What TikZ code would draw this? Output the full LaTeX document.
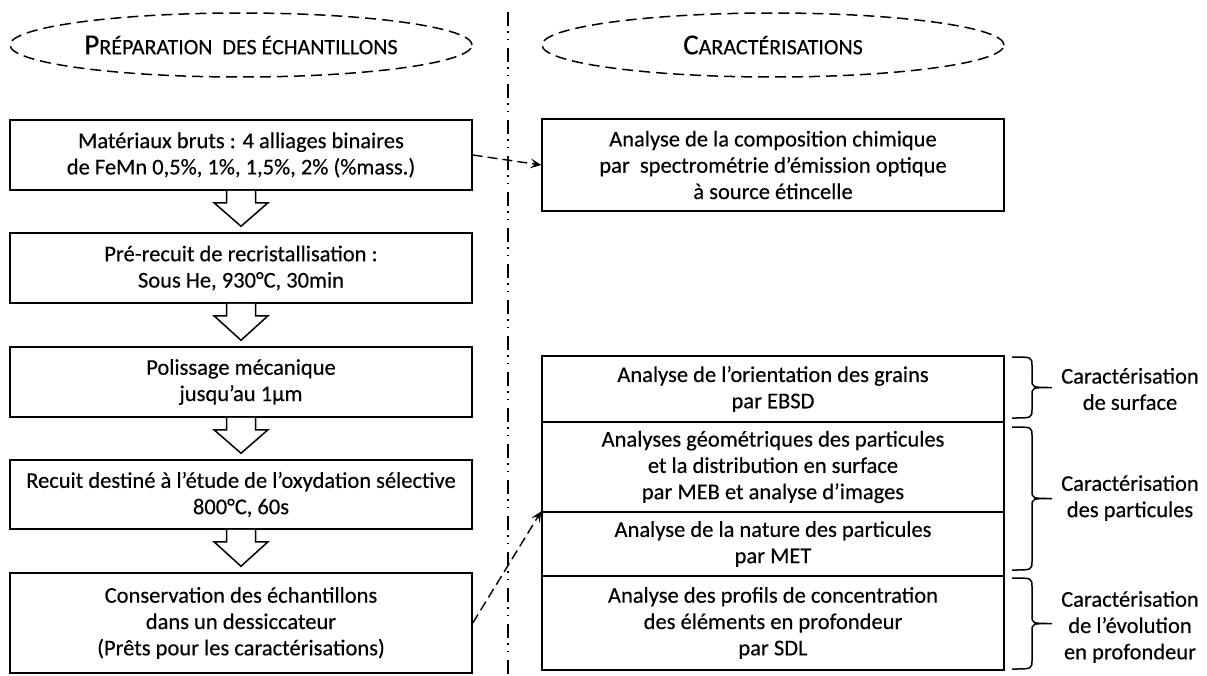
\documentclass[tikz,border=0pt]{standalone}
\usepackage{fontspec}
\setmainfont[FakeBold=0.3]{Carlito}
\newfontfamily\titlefont{Carlito}
\usetikzlibrary{shapes.geometric,arrows.meta,calc}
\newcommand\blockarr[2]{%
  \draw[blk] ([xshift=-14.5pt]#1.south) -- ++(0,12) -- ++(-12.5,0)
    -- ($(#2.north)+(0,-6)$) -- ($([xshift=27pt]#1.south)+(0,12)$)
    -- ++(-12.5,0) -- ([xshift=14.5pt]#1.south);}
\newcommand\mybracedraw[3]{%
  \pgfmathsetmacro\bm{(#2+#3)/2}%
  \pgfmathsetmacro\bx{#1+20}%
  \pgfmathsetmacro\bt{#1+40}%
  \draw[brc] (#1,#2) .. controls (\bx,#2) and (\bx,#2) .. (\bx,#2+9)
    -- (\bx,\bm-8) .. controls (\bx,\bm) and (\bx,\bm) .. (\bt,\bm)
    .. controls (\bx,\bm) and (\bx,\bm) .. (\bx,\bm+8)
    -- (\bx,#3-9) .. controls (\bx,#3) and (\bx,#3) .. (#1,#3);}
\begin{document}
\begin{tikzpicture}[x=1pt,y=-1pt,
  txt/.style={font=\fontsize{22.5}{26.3}\selectfont},
  box/.style={txt,draw,line width=1.5pt,minimum width=462pt,inner sep=0pt,align=center},
  ttl/.style={ellipse,draw,line width=1.5pt,dash pattern=on 11pt off 6pt,minimum width=462pt,minimum height=64pt,inner sep=0pt},
  blk/.style={line width=1.5pt,fill=white,line join=miter},
  dasharrow/.style={line width=1.4pt,dash pattern=on 10pt off 5pt,-{Stealth[length=11pt,width=10pt,inset=5pt]}},
  sepline/.style={line width=1.3pt,dash pattern=on 14pt off 5pt on 1.5pt off 6pt on 1.5pt off 8pt},
  brc/.style={line width=1.5pt},
  lab/.style={txt,align=center,inner sep=0pt}]
\useasboundingbox (0,0) rectangle (1207,675);
\fill[white] (0,0) rectangle (1207,675);
% separator
\coordinate (sepT) at (508,12);
\coordinate (sepB) at (508,675);
\draw[sepline] (sepT) -- (sepB);
% titles
\node[ttl] (E1) at (241,45) {{\fontsize{29}{29}\selectfont P}{\fontsize{22}{22}\selectfont RÉPARATION\ \ DES ÉCHANTILLONS}};
\node[ttl] (E2) at (773,45) {{\fontsize{29}{29}\selectfont C}{\fontsize{22}{22}\selectfont ARACTÉRISATIONS}};
% left column
\node[box,minimum height=70pt] (B1) at (241,155) {Matériaux bruts : 4 alliages binaires\\de FeMn 0,5\%, 1\%, 1,5\%, 2\% (\%mass.)};
\node[box,minimum height=70pt] (B2) at (241,268) {Pré-recuit de recristallisation :\\Sous He, 930°C, 30min};
\node[box,minimum height=70pt] (B3) at (241,382) {Polissage mécanique\\jusqu’au 1µm};
\node[box,minimum height=69pt] (B4) at (241,494.5) {Recuit destiné à l’étude de l’oxydation sélective\\800°C, 60s};
\node[box,minimum height=100pt] (B5) at (241,623) {Conservation des échantillons\\dans un dessiccateur\\(Prêts pour les caractérisations)};
\blockarr{B1}{B2}
\blockarr{B2}{B3}
\blockarr{B3}{B4}
\blockarr{B4}{B5}
% right column
\node[box,minimum height=92pt] (R1) at (773,165) {Analyse de la composition chimique\\par~ spectrométrie d’émission optique\\à source étincelle};
\node[box,minimum height=66pt] (R2) at (773,389) {Analyse de l’orientation des grains\\par EBSD};
\node[box,minimum height=90pt] (R3) at (773,467) {Analyses géométriques des particules\\et la distribution en surface\\par MEB et analyse d’images};
\node[box,minimum height=64pt] (R4) at (773,544) {Analyse de la nature des particules\\par MET};
\node[box,minimum height=94pt] (R5) at (773,623) {Analyse des profils de concentration\\des éléments en profondeur\\par SDL};
% dashed links
\draw[dasharrow] (B1.east) -- (R1.west);
\draw[dasharrow] (B5.east) -- (R4.north west);
% braces and labels
\mybracedraw{1012}{357}{418}
\mybracedraw{1012}{427}{570}
\mybracedraw{1012}{578}{669}
\node[lab] (L1) at (1130,389) {Caractérisation\\de surface};
\node[lab] (L2) at (1130,498) {Caractérisation\\des particules};
\node[lab] (L3) at (1130,627) {Caractérisation\\de l’évolution\\en profondeur};
\end{tikzpicture}
\end{document}
